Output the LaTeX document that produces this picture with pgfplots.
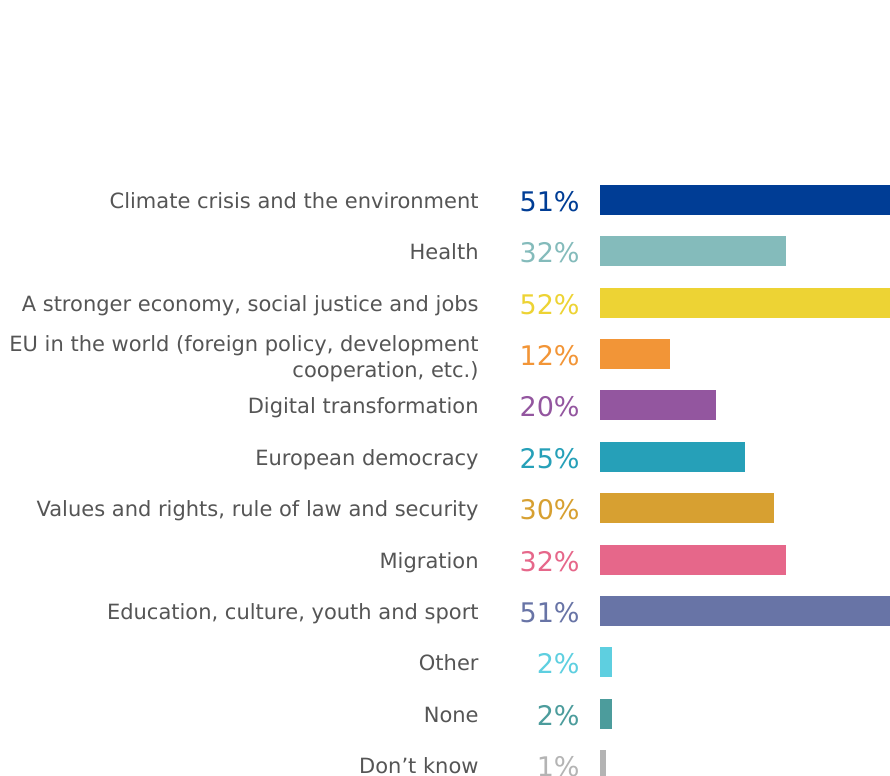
\documentclass[border=0pt]{standalone}
\usepackage{pgfplots}
\pgfplotsset{compat=1.18}
\usepackage{fontspec}
\setmainfont{DejaVu Sans}
\definecolor{c1}{HTML}{003D95}
\definecolor{c2}{HTML}{84BBBB}
\definecolor{c3}{HTML}{EDD334}
\definecolor{c4}{HTML}{F29537}
\definecolor{c5}{HTML}{93569F}
\definecolor{c6}{HTML}{26A0B8}
\definecolor{c7}{HTML}{D7A031}
\definecolor{c8}{HTML}{E6678A}
\definecolor{c9}{HTML}{6874A6}
\definecolor{c10}{HTML}{5ECFE0}
\definecolor{c11}{HTML}{4C9C9C}
\definecolor{c12}{HTML}{B4B4B4}
\definecolor{lab}{HTML}{555555}
\tikzset{
  cat/.style={anchor=base east, inner sep=0pt, xshift=-60.5pt, yshift=-4.25pt, text=lab, font=\fontsize{10.5pt}{13pt}\selectfont},
  pct/.style={anchor=base east, inner sep=0pt, xshift=-10pt, yshift=-5.75pt, font=\fontsize{13.5pt}{16pt}\selectfont},
}
\begin{document}
\begin{tikzpicture}
\useasboundingbox (0,0) rectangle (445pt,388pt);
\clip (0,0) rectangle (445pt,388pt);
\begin{axis}[
  at={(300pt,0pt)}, anchor=south west,
  scale only axis, width=145pt, height=388pt,
  xmin=0, xmax=50, ymin=-3.894, ymax=11.214,
  y dir=reverse, hide axis, clip mode=individual,
  xbar, bar width=15pt, bar shift=0pt,
  every axis plot/.append style={draw=none},
]
\addplot[fill=c1] coordinates {(51,0)};
\addplot[fill=c2] coordinates {(32,1)};
\addplot[fill=c3] coordinates {(52,2)};
\addplot[fill=c4] coordinates {(12,3)};
\addplot[fill=c5] coordinates {(20,4)};
\addplot[fill=c6] coordinates {(25,5)};
\addplot[fill=c7] coordinates {(30,6)};
\addplot[fill=c8] coordinates {(32,7)};
\addplot[fill=c9] coordinates {(51,8)};
\addplot[fill=c10] coordinates {(2,9)};
\addplot[fill=c11] coordinates {(2,10)};
\addplot[fill=c12] coordinates {(1,11)};
\node[cat] at (axis cs:0,0) {Climate crisis and the environment};
\node[cat] at (axis cs:0,1) {Health};
\node[cat] at (axis cs:0,2) {A stronger economy, social justice and jobs};
\node[anchor=east, inner sep=0pt, xshift=-60.5pt, yshift=-2.5pt, text=lab, align=right, font=\fontsize{10.5pt}{13pt}\selectfont] at (axis cs:0,3) {EU in the world (foreign policy, development\\cooperation, etc.)};
\node[cat] at (axis cs:0,4) {Digital transformation};
\node[cat] at (axis cs:0,5) {European democracy};
\node[cat] at (axis cs:0,6) {Values and rights, rule of law and security};
\node[cat] at (axis cs:0,7) {Migration};
\node[cat] at (axis cs:0,8) {Education, culture, youth and sport};
\node[cat] at (axis cs:0,9) {Other};
\node[cat] at (axis cs:0,10) {None};
\node[cat] at (axis cs:0,11) {Don’t know};
\node[pct, text=c1] at (axis cs:0,0) {51\%};
\node[pct, text=c2] at (axis cs:0,1) {32\%};
\node[pct, text=c3] at (axis cs:0,2) {52\%};
\node[pct, text=c4] at (axis cs:0,3) {12\%};
\node[pct, text=c5] at (axis cs:0,4) {20\%};
\node[pct, text=c6] at (axis cs:0,5) {25\%};
\node[pct, text=c7] at (axis cs:0,6) {30\%};
\node[pct, text=c8] at (axis cs:0,7) {32\%};
\node[pct, text=c9] at (axis cs:0,8) {51\%};
\node[pct, text=c10] at (axis cs:0,9) {2\%};
\node[pct, text=c11] at (axis cs:0,10) {2\%};
\node[pct, text=c12] at (axis cs:0,11) {1\%};
\end{axis}
\end{tikzpicture}
\end{document}
